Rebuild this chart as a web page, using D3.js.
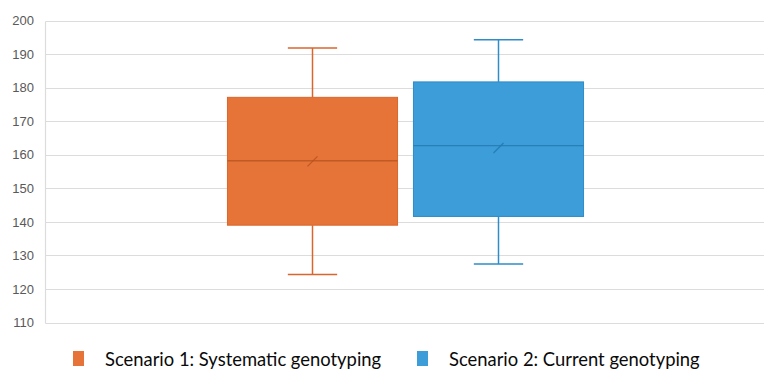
<!DOCTYPE html>
<html><head><meta charset="utf-8">
<script src="https://cdn.jsdelivr.net/npm/d3@7"></script>
<style>html,body{margin:0;padding:0;background:#fff;overflow:hidden;}svg{display:block;}</style>
</head><body>
<script>
const categories = ["Scenario 1: Systematic genotyping", "Scenario 2: Current genotyping"];
const minValues = [124.3, 127.4];
const q1Values = [139.0, 141.6];
const medianValues = [158.2, 162.7];
const q3Values = [177.1, 181.7];
const maxValues = [191.8, 194.3];
const meanValues = [158.0, 162.0];
const yTicks = [110, 120, 130, 140, 150, 160, 170, 180, 190, 200];
const fills = ["#E67337", "#3C9DD8"];
const strokes = ["#D9662C", "#2E8CC8"];
const darks = ["#B85420", "#2479B0"];

const W = 764, H = 370;
const svg = d3.select("body").append("svg").attr("width", W).attr("height", H);
const plotL = 45.5, plotR = 764;
const y = d3.scaleLinear().domain([110, 200]).range([322.5, 20.5]);
const x = d3.scaleBand().domain(categories).range([219.5, 591.5]).paddingInner(0.0856).paddingOuter(0.0428);

// gridlines
svg.append("g").selectAll("line").data(yTicks).join("line")
  .attr("x1", plotL).attr("x2", plotR)
  .attr("y1", d => Math.round(y(d)) + 0.5).attr("y2", d => Math.round(y(d)) + 0.5)
  .attr("stroke", "#dcdcdc").attr("stroke-width", 1.2);
svg.append("line").attr("x1", plotL).attr("x2", plotL).attr("y1", Math.round(y(200)) + 0.5).attr("y2", Math.round(y(110)) + 0.5)
  .attr("stroke", "#dcdcdc").attr("stroke-width", 1.2);

// y axis labels
const yAxis = d3.axisLeft(y).tickValues(yTicks).tickSize(0).tickPadding(0).tickFormat(d3.format("d"));
const ga = svg.append("g").attr("transform", "translate(34,0)").call(yAxis);
ga.select(".domain").remove();
ga.selectAll("text").attr("fill", "#595959").attr("font-family", "Liberation Sans, Arial, sans-serif").attr("font-size", 13);

// boxes
const data = categories.map((c, i) => ({c, i, min: minValues[i], q1: q1Values[i], med: medianValues[i], q3: q3Values[i], max: maxValues[i], mean: meanValues[i]}));
const bw = x.bandwidth();
const g = svg.append("g").selectAll("g").data(data).join("g");
g.each(function(d) {
  const s = d3.select(this);
  const x0 = x(d.c), cx = x0 + bw / 2, capW = bw * 0.29;
  s.append("line").attr("x1", cx).attr("x2", cx).attr("y1", y(d.max)).attr("y2", y(d.q3)).attr("stroke", strokes[d.i]).attr("stroke-width", 1.5);
  s.append("line").attr("x1", cx).attr("x2", cx).attr("y1", y(d.q1)).attr("y2", y(d.min)).attr("stroke", strokes[d.i]).attr("stroke-width", 1.5);
  s.append("line").attr("x1", cx - capW / 2).attr("x2", cx + capW / 2).attr("y1", y(d.max)).attr("y2", y(d.max)).attr("stroke", strokes[d.i]).attr("stroke-width", 1.5);
  s.append("line").attr("x1", cx - capW / 2).attr("x2", cx + capW / 2).attr("y1", y(d.min)).attr("y2", y(d.min)).attr("stroke", strokes[d.i]).attr("stroke-width", 1.5);
  s.append("rect").attr("x", x0).attr("width", bw).attr("y", y(d.q3)).attr("height", y(d.q1) - y(d.q3))
    .attr("fill", fills[d.i]).attr("stroke", strokes[d.i]).attr("stroke-width", 1);
  s.append("line").attr("x1", x0).attr("x2", x0 + bw).attr("y1", y(d.med)).attr("y2", y(d.med)).attr("stroke", darks[d.i]).attr("stroke-width", 1.3).attr("opacity", 0.8);
  const my = y(d.mean);
  s.append("line").attr("x1", cx - 5).attr("x2", cx + 5).attr("y1", my + 5).attr("y2", my - 5).attr("stroke", darks[d.i]).attr("stroke-width", 1.2).attr("opacity", 0.85);
});

// legend
const lg = svg.append("g").attr("font-family", "Lato, 'Open Sans', sans-serif").attr("font-size", 18.4).attr("fill", "#0a0a0a");
const legendX = [73, 417];
const textX = [105, 449];
categories.forEach((c, i) => {
  lg.append("rect").attr("x", legendX[i]).attr("y", 351).attr("width", 11).attr("height", 15).attr("fill", fills[i]);
  lg.append("text").attr("x", textX[i]).attr("y", 365.5).text(c);
});
</script>
</body></html>
